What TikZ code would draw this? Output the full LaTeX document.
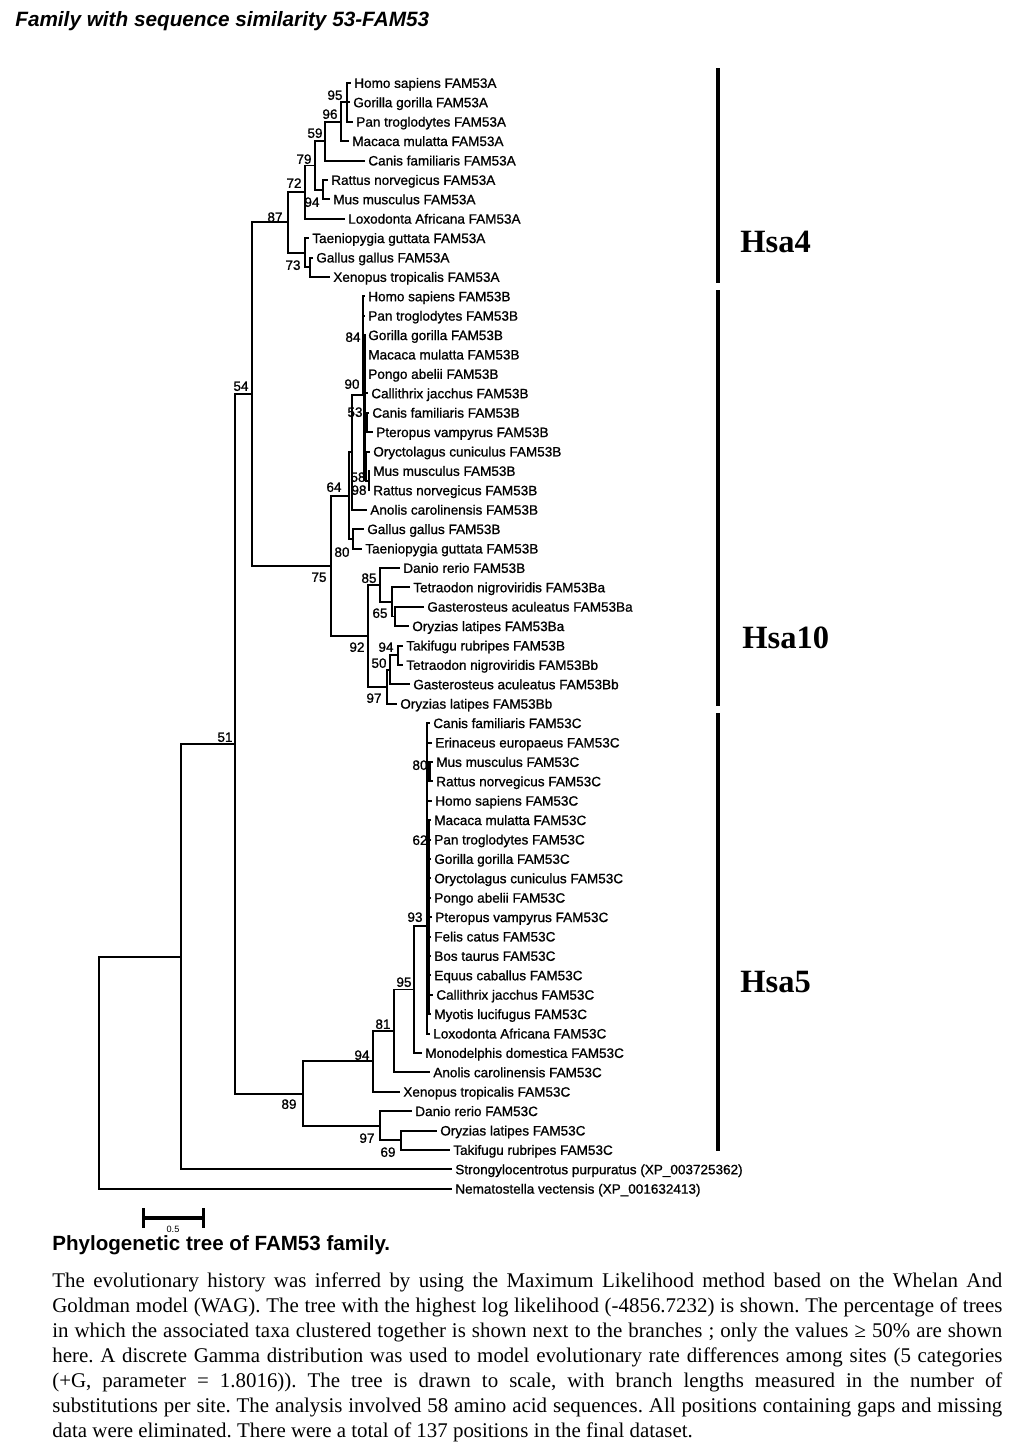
\documentclass[tikz,border=0pt]{standalone}
\usepackage{fontspec}
\setmainfont{Liberation Serif}
\setsansfont{Liberation Sans}
\newfontfamily\treefam{Liberation Sans}[FakeBold=1]
\usepackage{tikz}
\usetikzlibrary{arrows}
\newcommand{\leaffont}{\treefam\fontsize{7.7}{9}\selectfont}
\tikzstyle{leaf} = [anchor=west, inner xsep=1.7pt, inner ysep=0pt, text height=5.5pt, text depth=0pt, font=\leaffont]
\tikzstyle{boot} = [inner sep=0pt, text height=5.5pt, text depth=0pt, font=\leaffont]
\tikzstyle{fork} = [inner sep=0pt, outer sep=0pt, minimum size=0pt]
\tikzstyle{br} = [line width=1.1pt]
\tikzstyle{zero} = [line width=2.1pt]
\tikzstyle{elbow} = [br, to path={|- (\tikztotarget)}]
\tikzstyle{bar} = [line width=2.3pt]
\tikzstyle{hsa} = [anchor=west, inner sep=0pt, text height=12.3pt, text depth=0pt, font=\bfseries\fontsize{18.5}{20}\selectfont]
\tikzstyle{heading} = [anchor=west, inner sep=0pt, text height=8.4pt, text depth=0pt]

\begin{document}
\begin{tikzpicture}[x=0.2mm, y=-0.2mm]

    \useasboundingbox (0,0) rectangle (1017,1456);

    \node[heading, font=\sffamily\bfseries\itshape\fontsize{11.8}{14}\selectfont] at (15,19) (title) [] {Family with sequence similarity 53-FAM53};

    %=====================

    \node[leaf] at (351,83) (homoA) [] {Homo sapiens FAM53A};
    \node[leaf] at (350,102.4) (gorillaA) [] {Gorilla gorilla FAM53A};
    \node[leaf] at (353,121.8) (panA) [] {Pan troglodytes FAM53A};
    \node[leaf] at (349,141.2) (macacaA) [] {Macaca mulatta FAM53A};
    \node[leaf] at (365,160.6) (canisA) [] {Canis familiaris FAM53A};
    \node[leaf] at (328,180) (rattusA) [] {Rattus norvegicus FAM53A};
    \node[leaf] at (330,199.4) (musA) [] {Mus musculus FAM53A};
    \node[leaf] at (345,218.8) (loxodontaA) [] {Loxodonta Africana FAM53A};
    \node[leaf] at (309,238.2) (taeniopygiaA) [] {Taeniopygia guttata FAM53A};
    \node[leaf] at (313,257.6) (gallusA) [] {Gallus gallus FAM53A};
    \node[leaf] at (330,277) (xenopusA) [] {Xenopus tropicalis FAM53A};

    \node[fork] at (347,102.4) (nA95) [] {};
    \node[fork] at (341,121.8) (nA96) [] {};
    \node[fork] at (325,141.2) (nA59) [] {};
    \node[fork] at (323,189.7) (nA94) [] {};
    \node[fork] at (315,165.5) (nA79) [] {};
    \node[fork] at (305,192.1) (nA72) [] {};
    \node[fork] at (310,267.3) (nA73) [] {};
    \node[fork] at (305,252.8) (nAaves) [] {};
    \node[fork] at (288,222.4) (nA87) [] {};

    \path
    (nA95) edge [elbow] node {} (homoA)
    (nA95) edge [elbow] node {} (gorillaA)
    (nA95) edge [elbow] node {} (panA)
    (nA96) edge [elbow] node {} (nA95)
    (nA96) edge [elbow] node {} (macacaA)
    (nA59) edge [elbow] node {} (nA96)
    (nA59) edge [elbow] node {} (canisA)
    (nA94) edge [elbow] node {} (rattusA)
    (nA94) edge [elbow] node {} (musA)
    (nA79) edge [elbow] node {} (nA59)
    (nA79) edge [elbow] node {} (nA94)
    (nA72) edge [elbow] node {} (nA79)
    (nA72) edge [elbow] node {} (loxodontaA)
    (nA73) edge [elbow] node {} (gallusA)
    (nA73) edge [elbow] node {} (xenopusA)
    (nAaves) edge [elbow] node {} (taeniopygiaA)
    (nAaves) edge [elbow] node {} (nA73)
    (nA87) edge [elbow] node {} (nA72)
    (nA87) edge [elbow] node {} (nAaves);

    \node[boot] at (335,95) (bA95) [] {95};
    \node[boot] at (330,114) (bA96) [] {96};
    \node[boot] at (315,133) (bA59) [] {59};
    \node[boot] at (304,159) (bA79) [] {79};
    \node[boot] at (294,183) (bA72) [] {72};
    \node[boot] at (312,202) (bA94) [] {94};
    \node[boot] at (275,217) (bA87) [] {87};
    \node[boot] at (293,265) (bA73) [] {73};

    %=====================

    \node[leaf] at (365,296.4) (homoB) [] {Homo sapiens FAM53B};
    \node[leaf] at (365,315.8) (panB) [] {Pan troglodytes FAM53B};
    \node[leaf] at (365,335.2) (gorillaB) [] {Gorilla gorilla FAM53B};
    \node[leaf] at (365,354.6) (macacaB) [] {Macaca mulatta FAM53B};
    \node[leaf] at (365,374) (pongoB) [] {Pongo abelii FAM53B};
    \node[leaf] at (368,393.4) (callithrixB) [] {Callithrix jacchus FAM53B};
    \node[leaf] at (369,412.8) (canisB) [] {Canis familiaris FAM53B};
    \node[leaf] at (373,432.2) (pteropusB) [] {Pteropus vampyrus FAM53B};
    \node[leaf] at (370,451.6) (oryctolagusB) [] {Oryctolagus cuniculus FAM53B};
    \node[leaf] at (370,471) (musB) [] {Mus musculus FAM53B};
    \node[leaf] at (370,490.4) (rattusB) [] {Rattus norvegicus FAM53B};
    \node[leaf] at (367,509.8) (anolisB) [] {Anolis carolinensis FAM53B};
    \node[leaf] at (364,529.2) (gallusB) [] {Gallus gallus FAM53B};
    \node[leaf] at (362,548.6) (taeniopygiaB) [] {Taeniopygia guttata FAM53B};
    \node[leaf] at (400,568) (danioB) [] {Danio rerio FAM53B};
    \node[leaf] at (410,587.4) (tetraodonBa) [] {Tetraodon nigroviridis FAM53Ba};
    \node[leaf] at (424,606.8) (gasterosteusBa) [] {Gasterosteus aculeatus FAM53Ba};
    \node[leaf] at (409,626.2) (oryziasBa) [] {Oryzias latipes FAM53Ba};
    \node[leaf] at (403,645.6) (takifuguB) [] {Takifugu rubripes FAM53B};
    \node[leaf] at (403,665) (tetraodonBb) [] {Tetraodon nigroviridis FAM53Bb};
    \node[leaf] at (410,684.4) (gasterosteusBb) [] {Gasterosteus aculeatus FAM53Bb};
    \node[leaf] at (397,703.8) (oryziasBb) [] {Oryzias latipes FAM53Bb};

    \node[fork] at (367,422.5) (nB53) [] {};
    \node[fork] at (369,480.7) (nB98) [] {};
    \node[fork] at (366,466.2) (nB58) [] {};
    \node[fork] at (364.5,395) (nB84) [] {};
    \node[fork] at (363,395) (nB90) [] {};
    \node[fork] at (352,452.4) (nBX) [] {};
    \node[fork] at (353,538.9) (nB80) [] {};
    \node[fork] at (349,495.7) (nB64) [] {};
    \node[fork] at (395,616.5) (nBGO) [] {};
    \node[fork] at (392,602) (nBT) [] {};
    \node[fork] at (380,585) (nB85) [] {};
    \node[fork] at (398,655.3) (nB94) [] {};
    \node[fork] at (390,669.9) (nB50) [] {};
    \node[fork] at (387,686.8) (nB97) [] {};
    \node[fork] at (368,635.9) (nB92) [] {};
    \node[fork] at (331,565.8) (nB75) [] {};

    \path
    (nB53) edge [elbow] node {} (canisB)
    (nB53) edge [elbow] node {} (pteropusB)
    (nB98) edge [elbow] node {} (musB)
    (nB98) edge [elbow] node {} (rattusB)
    (nB58) edge [elbow] node {} (oryctolagusB)
    (nB58) edge [elbow] node {} (nB98)
    (nB84) edge [elbow] node {} (gorillaB)
    (nB84) edge [elbow] node {} (macacaB)
    (nB84) edge [elbow] node {} (pongoB)
    (nB84) edge [elbow] node {} (callithrixB)
    (nB84) edge [elbow] node {} (nB53)
    (nB84) edge [elbow] node {} (nB58)
    (nB84 |- gorillaB.west) edge [zero] node {} (nB84 |- nB98)
    (nB90) edge [elbow] node {} (homoB)
    (nB90) edge [elbow] node {} (panB)
    (nB90) edge [elbow] node {} (nB84)
    (nBX) edge [elbow] node {} (nB90)
    (nBX) edge [elbow] node {} (anolisB)
    (nB80) edge [elbow] node {} (gallusB)
    (nB80) edge [elbow] node {} (taeniopygiaB)
    (nB64) edge [elbow] node {} (nBX)
    (nB64) edge [elbow] node {} (nB80);

    \path
    (nBGO) edge [elbow] node {} (gasterosteusBa)
    (nBGO) edge [elbow] node {} (oryziasBa)
    (nBT) edge [elbow] node {} (tetraodonBa)
    (nBT) edge [elbow] node {} (nBGO)
    (nB85) edge [elbow] node {} (danioB)
    (nB85) edge [elbow] node {} (nBT)
    (nB94) edge [elbow] node {} (takifuguB)
    (nB94) edge [elbow] node {} (tetraodonBb)
    (nB50) edge [elbow] node {} (nB94)
    (nB50) edge [elbow] node {} (gasterosteusBb)
    (nB97) edge [elbow] node {} (nB50)
    (nB97) edge [elbow] node {} (oryziasBb)
    (nB92) edge [elbow] node {} (nB85)
    (nB92) edge [elbow] node {} (nB97)
    (nB75) edge [elbow] node {} (nB64)
    (nB75) edge [elbow] node {} (nB92);

    \node[boot] at (353,337) (bB84) [] {84};
    \node[boot] at (352,384) (bB90) [] {90};
    \node[boot] at (355,412) (bB53) [] {53};
    \node[boot] at (358,477) (bB58) [] {58};
    \node[boot] at (359,490) (bB98) [] {98};
    \node[boot] at (334,487) (bB64) [] {64};
    \node[boot] at (342,552) (bB80) [] {80};
    \node[boot] at (319,577) (bB75) [] {75};
    \node[boot] at (369,578) (bB85) [] {85};
    \node[boot] at (380,613) (bB65) [] {65};
    \node[boot] at (357,647) (bB92) [] {92};
    \node[boot] at (386,647) (bB94) [] {94};
    \node[boot] at (379,663) (bB50) [] {50};
    \node[boot] at (374,698) (bB97) [] {97};

    %=====================

    \node[leaf] at (430,723.2) (canisC) [] {Canis familiaris FAM53C};
    \node[leaf] at (432,742.6) (erinaceusC) [] {Erinaceus europaeus FAM53C};
    \node[leaf] at (433,762) (musC) [] {Mus musculus FAM53C};
    \node[leaf] at (433,781.4) (rattusC) [] {Rattus norvegicus FAM53C};
    \node[leaf] at (432,800.8) (homoC) [] {Homo sapiens FAM53C};
    \node[leaf] at (431,820.2) (macacaC) [] {Macaca mulatta FAM53C};
    \node[leaf] at (431,839.6) (panC) [] {Pan troglodytes FAM53C};
    \node[leaf] at (431,859) (gorillaC) [] {Gorilla gorilla FAM53C};
    \node[leaf] at (431,878.4) (oryctolagusC) [] {Oryctolagus cuniculus FAM53C};
    \node[leaf] at (431,897.8) (pongoC) [] {Pongo abelii FAM53C};
    \node[leaf] at (432,917.2) (pteropusC) [] {Pteropus vampyrus FAM53C};
    \node[leaf] at (431,936.6) (felisC) [] {Felis catus FAM53C};
    \node[leaf] at (431,956) (bosC) [] {Bos taurus FAM53C};
    \node[leaf] at (431,975.4) (equusC) [] {Equus caballus FAM53C};
    \node[leaf] at (433,994.8) (callithrixC) [] {Callithrix jacchus FAM53C};
    \node[leaf] at (431,1014.2) (myotisC) [] {Myotis lucifugus FAM53C};
    \node[leaf] at (430,1033.6) (loxodontaC) [] {Loxodonta Africana FAM53C};
    \node[leaf] at (422,1053) (monodelphisC) [] {Monodelphis domestica FAM53C};
    \node[leaf] at (430,1072.4) (anolisC) [] {Anolis carolinensis FAM53C};
    \node[leaf] at (400,1091.8) (xenopusC) [] {Xenopus tropicalis FAM53C};
    \node[leaf] at (412,1111.2) (danioC) [] {Danio rerio FAM53C};
    \node[leaf] at (437,1130.6) (oryziasC) [] {Oryzias latipes FAM53C};
    \node[leaf] at (450,1150) (takifuguC) [] {Takifugu rubripes FAM53C};
    \node[leaf] at (452,1169.4) (strongylo) [] {Strongylocentrotus purpuratus (XP\_003725362)};
    \node[leaf] at (452,1188.8) (nematostella) [] {Nematostella vectensis (XP\_001632413)};

    \node[fork] at (429,771.7) (nC80) [] {};
    \node[fork] at (428.5,917.2) (nC62) [] {};
    \node[fork] at (427,926) (nC93) [] {};
    \node[fork] at (414,989.5) (nC95) [] {};
    \node[fork] at (394,1031) (nC81) [] {};
    \node[fork] at (373,1061.4) (nC94) [] {};
    \node[fork] at (401,1140.3) (nC69) [] {};
    \node[fork] at (380,1125.8) (nC97) [] {};

    \path
    (nC80) edge [elbow] node {} (musC)
    (nC80) edge [elbow] node {} (rattusC)
    (nC80 |- musC.west) edge [zero] node {} (nC80 |- rattusC.west)
    (nC62) edge [elbow] node {} (macacaC)
    (nC62) edge [elbow] node {} (panC)
    (nC62) edge [elbow] node {} (gorillaC)
    (nC62) edge [elbow] node {} (oryctolagusC)
    (nC62) edge [elbow] node {} (pongoC)
    (nC62) edge [elbow] node {} (pteropusC)
    (nC62) edge [elbow] node {} (felisC)
    (nC62) edge [elbow] node {} (bosC)
    (nC62) edge [elbow] node {} (equusC)
    (nC62) edge [elbow] node {} (callithrixC)
    (nC62) edge [elbow] node {} (myotisC)
    (nC62 |- macacaC.west) edge [zero] node {} (nC62 |- myotisC.west)
    (nC93) edge [elbow] node {} (canisC)
    (nC93) edge [elbow] node {} (erinaceusC)
    (nC93) edge [elbow] node {} (nC80)
    (nC93) edge [elbow] node {} (homoC)
    (nC93) edge [elbow] node {} (nC62)
    (nC93) edge [elbow] node {} (loxodontaC)
    (nC95) edge [elbow] node {} (nC93)
    (nC95) edge [elbow] node {} (monodelphisC)
    (nC81) edge [elbow] node {} (nC95)
    (nC81) edge [elbow] node {} (anolisC)
    (nC94) edge [elbow] node {} (nC81)
    (nC94) edge [elbow] node {} (xenopusC)
    (nC69) edge [elbow] node {} (oryziasC)
    (nC69) edge [elbow] node {} (takifuguC)
    (nC97) edge [elbow] node {} (danioC)
    (nC97) edge [elbow] node {} (nC69);

    \node[boot] at (420,765) (bC80) [] {80};
    \node[boot] at (420,840) (bC62) [] {62};
    \node[boot] at (415,917) (bC93) [] {93};
    \node[boot] at (404,982) (bC95) [] {95};
    \node[boot] at (383,1024) (bC81) [] {81};
    \node[boot] at (362,1055) (bC94) [] {94};
    \node[boot] at (367,1138) (bC97) [] {97};
    \node[boot] at (388,1152) (bC69) [] {69};

    %=====================

    \node[fork] at (252,394.1) (n54) [] {};
    \node[fork] at (303,1093.6) (n89) [] {};
    \node[fork] at (235,743.9) (n51) [] {};
    \node[fork] at (181,956.6) (nS) [] {};
    \node[fork] at (99,1072.7) (root) [] {};

    \path
    (n54) edge [elbow] node {} (nA87)
    (n54) edge [elbow] node {} (nB75)
    (n89) edge [elbow] node {} (nC94)
    (n89) edge [elbow] node {} (nC97)
    (n51) edge [elbow] node {} (n54)
    (n51) edge [elbow] node {} (n89)
    (nS) edge [elbow] node {} (n51)
    (nS) edge [elbow] node {} (strongylo)
    (root) edge [elbow] node {} (nS)
    (root) edge [elbow] node {} (nematostella);

    \node[boot] at (241,386) (b54) [] {54};
    \node[boot] at (225,737) (b51) [] {51};
    \node[boot] at (289,1104) (b89) [] {89};

    %=====================

    \node[fork] at (718,68) (bar4a) [] {};
    \node[fork] at (718,283) (bar4b) [] {};
    \node[fork] at (718,290) (bar10a) [] {};
    \node[fork] at (718,706) (bar10b) [] {};
    \node[fork] at (718,713) (bar5a) [] {};
    \node[fork] at (718,1151) (bar5b) [] {};

    \path
    (bar4a) edge [bar] node {} (bar4b)
    (bar10a) edge [bar] node {} (bar10b)
    (bar5a) edge [bar] node {} (bar5b);

    \node[hsa] at (740,242) (hsa4) [] {Hsa4};
    \node[hsa] at (742,638) (hsa10) [] {Hsa10};
    \node[hsa] at (740,982) (hsa5) [] {Hsa5};

    %=====================

    \node[fork] at (142,1218) (scaleL) [] {};
    \node[fork] at (205,1218) (scaleR) [] {};
    \path (scaleL) edge [|-|, line width=1.9pt] node {} (scaleR);
    \node[inner sep=0pt, font=\sffamily\fontsize{5.2}{6}\selectfont] at (173,1229) (scaleval) [] {0.5};

    \node[heading, font=\sffamily\bfseries\fontsize{11.7}{14}\selectfont] at (52,1243) (caption) [] {Phylogenetic tree of FAM53 family.};

    \node[anchor=north west, inner sep=0pt, text width=190mm, align=justify, font=\fontsize{11.9}{14.22}\selectfont\frenchspacing] at (52,1269.5) (legend) [] {\strut The evolutionary history was inferred by using the Maximum Likelihood method based on the Whelan And\linebreak
    Goldman model (WAG). The tree with the highest log likelihood (-4856.7232) is shown. The percentage of trees\linebreak
    in which the associated taxa clustered together is shown next to the branches ; only the values ≥ 50\% are shown\linebreak
    here. A discrete Gamma distribution was used to model evolutionary rate differences among sites (5 categories\linebreak
    (+G, parameter = 1.8016)). The tree is drawn to scale, with branch lengths measured in the number of\linebreak
    substitutions per site. The analysis involved 58 amino acid sequences. All positions containing gaps and missing\linebreak
    data were eliminated. There were a total of 137 positions in the final dataset.};

\end{tikzpicture}
\end{document}
